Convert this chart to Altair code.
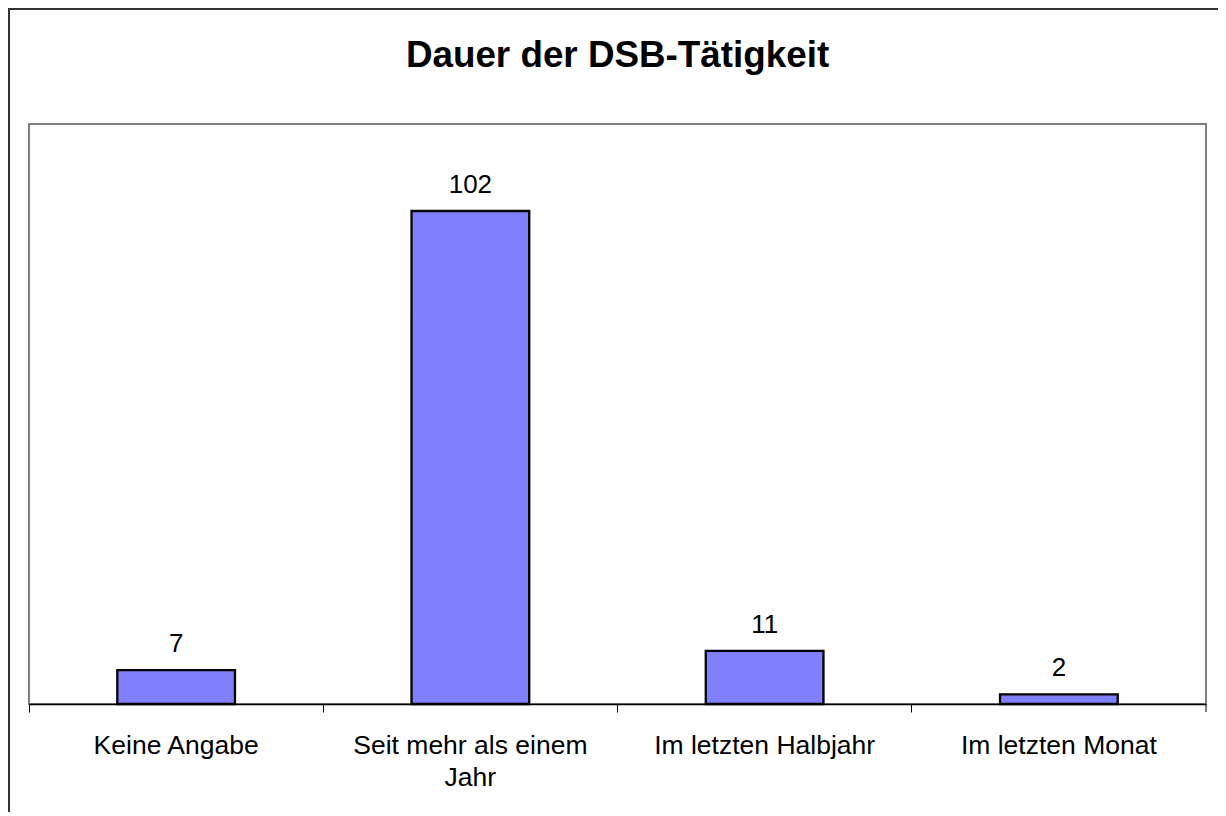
import altair as alt
import pandas as pd

categories = ["Keine Angabe", "Seit mehr als einem Jahr", "Im letzten Halbjahr", "Im letzten Monat"]
counts = [7, 102, 11, 2]
title_text = "Dauer der DSB-Tätigkeit"

df = pd.DataFrame({"Kategorie": categories, "Anzahl": counts})
one = pd.DataFrame({"d": [0]})

W, H = 1177, 580
FONT = "Liberation Sans"

x_axis = alt.Axis(
    title=None, labelAngle=0, labelFontSize=26.5, labelFont=FONT, labelColor="black",
    labelPadding=20, labelLineHeight=32, labelLimit=0, labelOverlap=False,
    domainColor="black", domainWidth=1.5, tickColor="black", tickSize=8, tickWidth=1,
    bandPosition=0,
    labelExpr="datum.label == 'Seit mehr als einem Jahr' ? ['Seit mehr als einem', 'Jahr'] : datum.label",
)
x = alt.X("Kategorie:N", sort=categories,
          scale=alt.Scale(paddingInner=0, paddingOuter=0), axis=x_axis)
y = alt.Y("Anzahl:Q", scale=alt.Scale(domain=[0, 120], nice=False), axis=None)

base = alt.Chart(df)
bars = base.mark_bar(width=alt.RelativeBandSize(0.4), fill="#8080FF",
                     stroke="black", strokeWidth=2.3).encode(x=x, y=y)
labels = base.mark_text(baseline="alphabetic", dy=-18, fontSize=26, font=FONT,
                        color="black").encode(x=alt.X("Kategorie:N", sort=categories), y=y,
                                              text="Anzahl:Q")

deco = alt.Chart(one)
left_border = deco.mark_rule(color="#333333", strokeWidth=2).encode(
    x=alt.value(-20), y=alt.value(-115), y2=alt.value(H + 108))
top_border = deco.mark_rule(color="#333333", strokeWidth=2).encode(
    x=alt.value(-21), x2=alt.value(W + 12), y=alt.value(-115))
last_tick = deco.mark_rule(color="black", strokeWidth=1).encode(
    x=alt.value(W), y=alt.value(H), y2=alt.value(H + 8))

chart = alt.layer(bars, labels, left_border, top_border, last_tick).properties(
    width=W, height=H,
    title=alt.TitleParams(title_text, fontSize=36.8, font=FONT, fontWeight="bold",
                          color="black", anchor="middle", baseline="alphabetic",
                          offset=-96, frame="group"),
    padding={"left": 21, "top": 116, "right": 12, "bottom": 108},
    autosize=alt.AutoSizeParams(type="none"),
    background="white",
).configure_view(stroke="#808080", strokeWidth=2)

chart.save("out.html", embed_options={"renderer": "svg", "actions": False})
